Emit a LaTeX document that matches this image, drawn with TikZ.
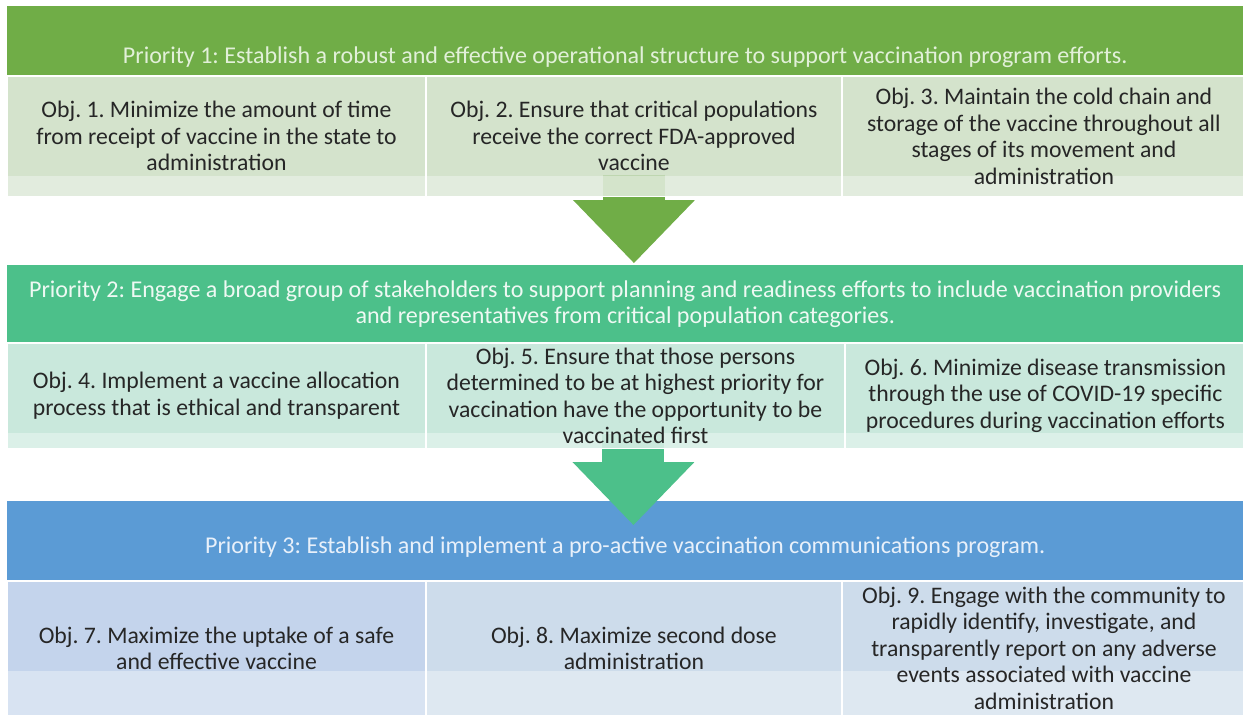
\documentclass[tikz,border=0pt]{standalone}
\usepackage{fontspec}
\setmainfont{Carlito}
\usepackage{xcolor}
\usepackage{tikz}
\usetikzlibrary{arrows.meta, positioning, backgrounds, calc}
\definecolor{prione}{RGB}{112, 173, 71}
\definecolor{pritwo}{RGB}{76, 192, 138}
\definecolor{prithree}{RGB}{91, 155, 213}
\definecolor{objone}{RGB}{204, 222, 195}
\definecolor{objtwo}{RGB}{191, 228, 214}
\definecolor{objthree}{RGB}{186, 205, 233}
\definecolor{objthreeb}{RGB}{196, 214, 232}
\definecolor{txtone}{RGB}{226, 240, 217}
\definecolor{txttwo}{RGB}{238, 249, 243}
\definecolor{txtthree}{RGB}{232, 240, 250}
\definecolor{txtdark}{RGB}{38, 38, 38}
\pgfdeclarelayer{arrowlayer}
\pgfsetlayers{background,arrowlayer,main}
\frenchspacing

\begin{document}
\begin{tikzpicture}[
    x=0.02cm, y=-0.02cm,
    priority/.style={fill=#1, inner sep=0pt, align=center, minimum width=24.72cm, anchor=north west, font=\fontsize{13.7}{14.9}\selectfont},
    objective/.style={fill=#1, fill opacity=0.85, text opacity=1, draw=white, line width=0.6pt, inner sep=0pt, align=center, text=txtdark, font=\fontsize{13.5}{15.1}\selectfont},
    lightstrip/.style={path picture={\fill[white, fill opacity=0.35] (path picture bounding box.south west) rectangle ([yshift=#1]path picture bounding box.south east);}},
    flowarrow/.style={line width=1.24cm, draw=#1, -{Triangle[width=2.44cm, length=1.26cm, line width=0pt, fill=#1]}}
]
    \useasboundingbox (0, 0) rectangle (1243, 714);

    % Priority bands
    \begin{scope}[on background layer]
        \node[priority=prione, text=txtone, text height=1.14cm, text depth=0.24cm] (p1) at (7, 6)
            {Priority 1: Establish a robust and effective operational structure to support vaccination program efforts.};
        \node[priority=pritwo, text=txttwo, minimum height=1.54cm] (p2) at (7, 265)
            {Priority 2: Engage a broad group of stakeholders to support planning and readiness efforts to include vaccination providers\\and representatives from critical population categories.};
        \node[priority=prithree, text=txtthree, text height=1.04cm, text depth=0.54cm] (p3) at (7, 501)
            {Priority 3: Establish and implement a pro-active vaccination communications program.};
    \end{scope}

    % Objectives of priority 1
    \node[objective=objone, lightstrip=0.4cm, minimum width=8.36cm, minimum height=2.4cm, anchor=north west] (o1) at (p1.south west)
        {Obj. 1. Minimize the amount of time\\from receipt of vaccine in the state to\\administration};
    \node[objective=objone, lightstrip=0.4cm, minimum width=8.3cm, minimum height=2.4cm, right=0pt of o1] (o2)
        {Obj. 2. Ensure that critical populations\\receive the correct FDA-approved\\vaccine};
    \node[objective=objone, lightstrip=0.4cm, minimum width=8.06cm, minimum height=2.4cm, right=0pt of o2] (o3)
        {Obj. 3. Maintain the cold chain and\\storage of the vaccine throughout all\\stages of its movement and\\administration};

    % Objectives of priority 2
    \node[objective=objtwo, lightstrip=0.3cm, minimum width=8.36cm, minimum height=2.1cm, anchor=north west] (o4) at (p2.south west)
        {Obj. 4. Implement a vaccine allocation\\process that is ethical and transparent};
    \node[objective=objtwo, lightstrip=0.3cm, minimum width=8.36cm, minimum height=2.1cm, right=0pt of o4] (o5)
        {Obj. 5. Ensure that those persons\\determined to be at highest priority for\\vaccination have the opportunity to be\\vaccinated first};
    \node[objective=objtwo, lightstrip=0.3cm, minimum width=8cm, minimum height=2.1cm, right=0pt of o5] (o6)
        {Obj. 6. Minimize disease transmission\\through the use of COVID-19 specific\\procedures during vaccination efforts};

    % Objectives of priority 3
    \node[objective=objthree, lightstrip=0.88cm, minimum width=8.36cm, minimum height=2.68cm, anchor=north west] (o7) at (p3.south west)
        {Obj. 7. Maximize the uptake of a safe\\and effective vaccine};
    \node[objective=objthreeb, lightstrip=0.88cm, minimum width=8.3cm, minimum height=2.68cm, right=0pt of o7] (o8)
        {Obj. 8. Maximize second dose\\administration};
    \node[objective=objthreeb, lightstrip=0.88cm, minimum width=8.06cm, minimum height=2.68cm, right=0pt of o8] (o9)
        {Obj. 9. Engage with the community to\\rapidly identify, investigate, and\\transparently report on any adverse\\events associated with vaccine\\administration};

    % Arrows between priorities
    \begin{pgfonlayer}{arrowlayer}
        \draw[flowarrow=prione] ($(o2.south)+(0, -22)$) -- ($(o2.south |- p2.north)+(0, -2)$);
        \draw[flowarrow=pritwo] ($(o5.south)+(-2, -15)$) -- ($(o5.south |- p3.north)+(-2, 24)$);
    \end{pgfonlayer}

\end{tikzpicture}
\end{document}
